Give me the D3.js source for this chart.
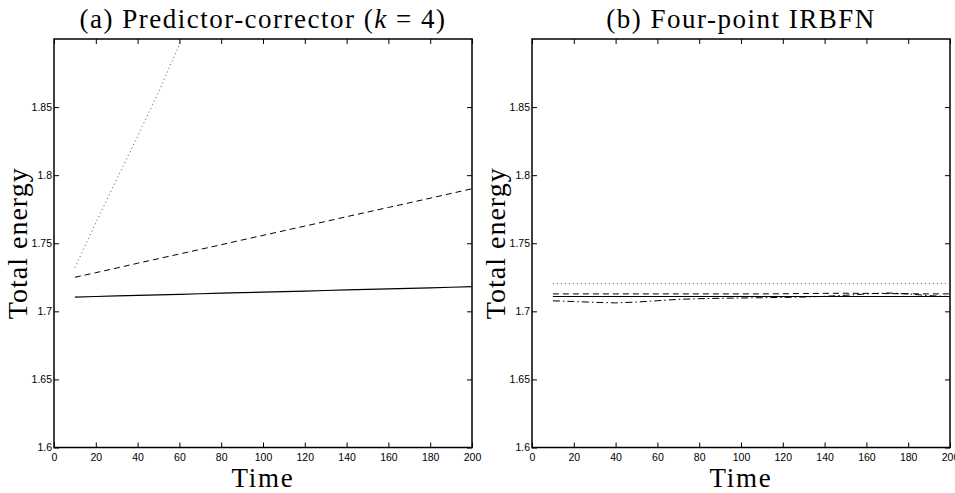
<!DOCTYPE html>
<html>
<head>
<meta charset="utf-8">
<script src="https://d3js.org/d3.v7.min.js"></script>
<style>
  body { margin: 0; background: #fff; }
  svg { display: block; }
</style>
</head>
<body>
<div id="container"></div>
<script type="text/javascript">

var width = 955, height = 493;

// sample times
var times = [10, 20, 30, 40, 50, 60, 70, 80, 90, 100, 110, 120, 130, 140, 150, 160, 170, 180, 190, 200];

// (a) predictor-corrector
var pcSolid  = [1.7105, 1.7109, 1.7113, 1.7117, 1.7121, 1.7125, 1.7129, 1.7133, 1.7137, 1.7141, 1.7145, 1.7149, 1.7153, 1.7157, 1.7161, 1.7165, 1.7169, 1.7173, 1.7177, 1.7181];
var pcDashed = [1.7250, 1.7284, 1.7318, 1.7353, 1.7387, 1.7421, 1.7455, 1.7489, 1.7524, 1.7558, 1.7592, 1.7626, 1.7660, 1.7695, 1.7729, 1.7763, 1.7797, 1.7831, 1.7866, 1.7900];
var pcDotted = [1.7320, 1.7650, 1.7970, 1.8285, 1.8610, 1.8960, 1.9330, 1.9700];
var pcDottedT = [10, 20, 30, 40, 50, 60, 70, 80];

// (b) four-point IRBFN
var irSolid   = [1.7109, 1.7109, 1.7109, 1.7109, 1.7109, 1.7109, 1.7109, 1.7109, 1.7109, 1.7109, 1.7109, 1.7109, 1.7109, 1.7109, 1.7109, 1.7109, 1.7109, 1.7109, 1.7109, 1.7109];
var irDashed  = [1.7128, 1.7128, 1.7128, 1.7128, 1.7128, 1.7128, 1.7128, 1.7128, 1.7128, 1.7128, 1.7128, 1.7129, 1.7131, 1.7132, 1.7133, 1.7132, 1.7130, 1.7129, 1.7128, 1.7128];
var irDotted  = [1.7204, 1.7204, 1.7204, 1.7204, 1.7204, 1.7204, 1.7204, 1.7204, 1.7204, 1.7204, 1.7204, 1.7204, 1.7204, 1.7204, 1.7204, 1.7204, 1.7204, 1.7205, 1.7205, 1.7206];
var irDashDot = [1.7077, 1.7072, 1.7066, 1.7062, 1.7068, 1.7078, 1.7088, 1.7093, 1.7096, 1.7098, 1.7100, 1.7102, 1.7105, 1.7110, 1.7118, 1.7128, 1.7135, 1.7128, 1.7115, 1.7108];

var xTicks = [0, 20, 40, 60, 80, 100, 120, 140, 160, 180, 200];
var yTicks = [1.6, 1.65, 1.7, 1.75, 1.8, 1.85];

var styles = {
  solid:   null,
  dashed:  "6,4",
  dotted:  "1,3",
  dashdot: "7,3,1.5,3"
};

var panels = [
  {
    left: 54, title: "(a) Predictor-corrector", k: true,
    series: [
      {t: times, v: pcSolid, s: "solid"},
      {t: times, v: pcDashed, s: "dashed"},
      {t: pcDottedT, v: pcDotted, s: "dotted"}
    ]
  },
  {
    left: 532, title: "(b) Four-point IRBFN", k: false,
    series: [
      {t: times, v: irDotted, s: "dotted"},
      {t: times, v: irDashed, s: "dashed"},
      {t: times, v: irSolid, s: "solid"},
      {t: times, v: irDashDot, s: "dashdot"}
    ]
  }
];

var pw = 418, plotTop = 39, plotBottom = 447.5;
var serif = '"Liberation Serif", "DejaVu Serif", serif';

var svg = d3.select('#container')
  .append('svg')
  .attr('width', width)
  .attr('height', height)
  .style('font-family', '"Liberation Sans", Arial, sans-serif');

panels.forEach(function(p, pi){
  var x = d3.scaleLinear().domain([0, 200]).range([p.left, p.left + pw]);
  var y = d3.scaleLinear().domain([1.6, 1.9]).range([plotBottom, plotTop]);

  var g = svg.append('g');

  var clipId = 'clip' + pi;
  svg.append('clipPath').attr('id', clipId)
    .append('rect')
    .attr('x', p.left).attr('y', plotTop)
    .attr('width', pw).attr('height', plotBottom - plotTop);

  // axes, matlab style: ticks inside, box around
  var bottomAxis = d3.axisBottom(x).tickValues(xTicks).tickSize(-5).tickPadding(6).tickFormat(d3.format('d'));
  var topAxis = d3.axisTop(x).tickValues(xTicks).tickSize(-5).tickFormat('');
  var leftAxis = d3.axisLeft(y).tickValues(yTicks).tickSize(-5).tickPadding(2).tickFormat(function(d){ return String(+d.toFixed(2)); });
  var rightAxis = d3.axisRight(y).tickValues(yTicks).tickSize(-5).tickFormat('');

  [
    g.append('g').attr('transform', 'translate(0,' + plotBottom + ')').call(bottomAxis),
    g.append('g').attr('transform', 'translate(0,' + plotTop + ')').call(topAxis),
    g.append('g').attr('transform', 'translate(' + p.left + ',0)').call(leftAxis),
    g.append('g').attr('transform', 'translate(' + (p.left + pw) + ',0)').call(rightAxis)
  ].forEach(function(a){
    a.select('.domain').remove();
    a.selectAll('line').attr('stroke', '#000').attr('stroke-width', 1);
    a.selectAll('text').attr('fill', '#000').style('font-size', '10.5px').style('font-family', '"Liberation Sans", Arial, sans-serif');
  });

  g.append('rect')
    .attr('x', p.left).attr('y', plotTop)
    .attr('width', pw).attr('height', plotBottom - plotTop)
    .attr('fill', 'none').attr('stroke', '#000').attr('stroke-width', 1.5);

  var line = d3.line()
    .x(function(d){ return x(d[0]); })
    .y(function(d){ return y(d[1]); });

  p.series.forEach(function(s){
    var pts = s.t.map(function(t, i){ return [t, s.v[i]]; });
    g.append('path')
      .attr('d', line(pts))
      .attr('clip-path', 'url(#' + clipId + ')')
      .attr('fill', 'none')
      .attr('stroke', s.s === 'dotted' ? '#555' : '#000')
      .attr('stroke-width', s.s === 'solid' ? 1.2 : 1)
      .attr('stroke-dasharray', styles[s.s]);
  });

  var cx = p.left + pw / 2;

  var title = g.append('text')
    .attr('x', cx).attr('y', 28)
    .attr('text-anchor', 'middle')
    .style('font-family', serif)
    .style('font-size', '27px')
    .style('letter-spacing', '1.5px')
    .text(p.title);
  if (p.k) {
    title.append('tspan').text(' (');
    title.append('tspan').style('font-style', 'italic').text('k');
    title.append('tspan').text(' = 4)');
  }

  g.append('text')
    .attr('x', cx).attr('y', 487)
    .attr('text-anchor', 'middle')
    .style('font-family', serif)
    .style('font-size', '27px')
    .style('letter-spacing', '1.8px')
    .text('Time');

  g.append('text')
    .attr('transform', 'translate(' + (p.left - 27) + ',' + ((plotTop + plotBottom) / 2) + ') rotate(-90)')
    .attr('text-anchor', 'middle')
    .style('font-family', serif)
    .style('font-size', '28px')
    .style('letter-spacing', '1px')
    .text('Total energy');
});

</script>
</body>
</html>
